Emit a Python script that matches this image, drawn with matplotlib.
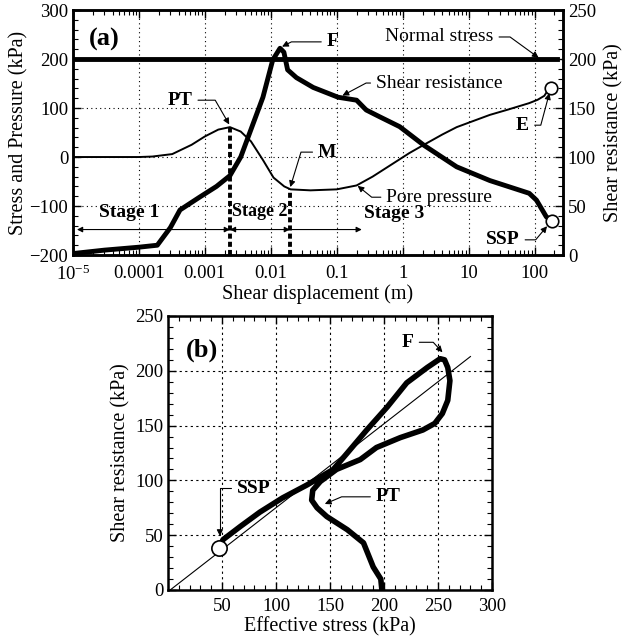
import matplotlib
matplotlib.use('Agg')
import matplotlib.pyplot as plt
from matplotlib.ticker import MultipleLocator, LogLocator, NullFormatter

plt.rcParams['font.family'] = 'Liberation Serif'
plt.rcParams['font.size'] = 13
plt.rcParams['mathtext.fontset'] = 'custom'
plt.rcParams['mathtext.rm'] = 'Liberation Serif'

# ---- panel (a): values ----
disp_pore = [1e-5, 1e-4, 1.6e-4, 3.2e-4, 6.3e-4, 1e-3, 1.6e-3, 2.4e-3, 3.5e-3, 5e-3,
             7.6e-3, 0.011, 0.016, 0.02, 0.04, 0.1, 0.2, 0.35, 0.63, 1.26,
             2.1, 4, 6.6, 12.6, 21, 40, 83, 112, 141, 166, 180]
pore = [0, 0, 1, 6, 25, 42, 56, 61, 52, 32,
        -6, -42, -60, -66, -68, -66, -58, -40, -18, 8,
        25, 46, 61, 75, 86, 97, 110, 117, 125, 140, 145]

disp_shear = [1e-5, 3e-5, 1e-4, 1.9e-4, 3e-4, 4.2e-4, 8.3e-4, 1.5e-3, 2.4e-3, 3.5e-3,
              4.4e-3, 7.6e-3, 0.0107, 0.0138, 0.0158, 0.018, 0.0245, 0.044, 0.105, 0.2,
              0.28, 0.45, 0.9, 2.1, 6.6, 21, 83, 107, 151, 182]
shear = [1.5, 5, 8, 10, 28, 46, 59, 70, 81, 100,
         118, 161, 199, 211, 207, 189, 181, 171, 161, 158,
         148, 141, 131, 112, 90, 76, 63, 56, 39, 35]

normal_disp = [1e-5, 220]
normal = [200, 200]

disp_pt, disp_m = 0.0024, 0.0195
pore_pt, pore_m = 61, -66
stage_level = -148

# ---- panel (b) ----
eff = [198, 197, 190, 181, 166, 147, 138, 133, 134, 141, 156, 178, 193, 215, 236, 247,
       254, 259, 261, 259, 256, 252, 240, 221, 203, 184, 166, 153, 129, 106, 85, 67, 51, 47]
tau = [0, 10, 21, 43, 55, 67, 75, 82, 91, 99, 110, 119, 130, 139, 146, 152,
       161, 173, 191, 203, 210, 211, 203, 189, 167, 146, 125, 110, 96, 84, 71, 58, 46, 38]
env_eff = [2, 280]
env_tau = [0, 213]

fig = plt.figure(figsize=(6.26, 6.39), dpi=100)

def callout(a, label, xy, xytext, angB, bold=True, size=14):
    a.annotate(label, xy=xy, xytext=xytext, ha='center', va='center', fontsize=size,
               fontweight='bold' if bold else 'normal',
               arrowprops=dict(arrowstyle='-|>', color='k', lw=0.8, mutation_scale=9,
                               shrinkA=2, shrinkB=1,
                               connectionstyle=f'angle,angleA=0,angleB={angB},rad=0'))

def style(a):
    for s in a.spines.values():
        s.set_linewidth(1.8)
    a.tick_params(which='major', direction='in', length=6, width=1, labelsize=13.5)
    a.tick_params(which='minor', direction='in', length=3.5, width=0.8)

# ===== (a) =====
ax = fig.add_axes([0.1166, 0.6009, 0.7827, 0.3834])
ax2 = ax.twinx()
ax.set_xscale('log')
ax.set_xlim(1e-5, 270)
ax.set_ylim(-200, 300)
ax2.set_ylim(0, 250)

ax.plot(normal_disp, normal, color='k', lw=3.5)
ax.plot(disp_pore, pore, color='k', lw=1.4)
ax2.plot(disp_shear, shear, color='k', lw=3.5, solid_joinstyle='round')
ax.plot(disp_pore[-1], pore[-1] - 4, 'o', ms=9, mfc='white', mec='k', mew=1.2)
ax2.plot(disp_shear[-1], shear[-1], 'o', ms=9, mfc='white', mec='k', mew=1.2, zorder=5)

ax.plot([disp_pt, disp_pt], [-200, pore_pt], color='k', lw=2.8, ls=(0, (1.3, 0.8)))
ax.plot([disp_m, disp_m], [-200, pore_m], color='k', lw=2.8, ls=(0, (1.3, 0.8)))

arr = dict(color='k', lw=0.8, mutation_scale=8, shrinkA=0, shrinkB=0)
ax.annotate('', xy=(disp_pt, stage_level), xytext=(1.15e-5, stage_level),
            arrowprops=dict(arrowstyle='<|-|>', **arr))
ax.annotate('', xy=(disp_m, stage_level), xytext=(disp_pt, stage_level),
            arrowprops=dict(arrowstyle='<|-|>', **arr))
ax.annotate('', xy=(0.24, stage_level), xytext=(disp_m, stage_level),
            arrowprops=dict(arrowstyle='-|>', **arr))
ax.text(7.2e-5, -114, 'Stage 1', ha='center', va='center', fontsize=14, fontweight='bold')
ax.text(6.9e-3, -112, 'Stage 2', ha='center', va='center', fontsize=13, fontweight='bold')
ax.text(0.26, -115, 'Stage 3', ha='left', va='center', fontsize=14, fontweight='bold')
ax.text(3e-5, 240, '(a)', ha='center', va='center', fontsize=19, fontweight='bold')

callout(ax, 'PT', (disp_pt, 64), (4.2e-4, 116), -60)
callout(ax, 'F', (0.0142, 224), (0.087, 235), 27)
callout(ax, 'Normal stress', (120, 201), (3.6, 245), -36, bold=False)
callout(ax, 'Shear resistance', (0.117, 124), (3.6, 151), 28, bold=False)
callout(ax, 'M', (0.0195, -64), (0.072, 10), 73)
callout(ax, 'Pore pressure', (0.2, -57), (3.6, -82), -39, bold=False)
callout(ax, 'E', (170, 133), (66, 65), 75)
callout(ax, 'SSP', (160, -139), (33, -169), 50)

ax.set_xticks([1e-5, 1e-4, 1e-3, 1e-2, 0.1, 1, 10, 100])
ax.set_xticklabels([r'$\mathregular{10^{-5}}$', '0.0001', '0.001', '0.01', '0.1', '1', '10', '100'])
ax.xaxis.set_minor_locator(LogLocator(base=10, subs=range(2, 10), numticks=20))
ax.xaxis.set_minor_formatter(NullFormatter())
ax.set_yticks(range(-200, 301, 100))
ax.yaxis.set_minor_locator(MultipleLocator(20))
ax2.set_yticks(range(0, 251, 50))
ax2.yaxis.set_minor_locator(MultipleLocator(10))
style(ax)
style(ax2)
ax.tick_params(which='both', top=True, right=False)
ax.tick_params(axis='x', which='major', pad=7)
ax.grid(True, which='major', color='k', lw=0.8, ls=(0, (1, 3)))
ax.set_xlabel('Shear displacement (m)', fontsize=14.5, labelpad=0)
ax.set_ylabel('Stress and Pressure (kPa)', fontsize=14.5, labelpad=1)
ax2.set_ylabel('Shear resistance (kPa)', fontsize=14.5, labelpad=6)

# ===== (b) =====
bx = fig.add_axes([0.2684, 0.0767, 0.5176, 0.4288])
bx.plot(env_eff, env_tau, color='k', lw=0.8)
bx.plot(eff, tau, color='k', lw=4, solid_joinstyle='round')
bx.plot(eff[-1], tau[-1], 'o', ms=11, mfc='white', mec='k', mew=1.2, zorder=5)
bx.set_xlim(0, 300)
bx.set_ylim(0, 250)
bx.set_xticks(range(50, 301, 50))
bx.set_yticks(range(0, 251, 50))
bx.xaxis.set_minor_locator(MultipleLocator(10))
bx.yaxis.set_minor_locator(MultipleLocator(10))
style(bx)
bx.tick_params(which='both', top=True, right=True)
bx.tick_params(axis='x', which='major', pad=6)
bx.grid(True, which='major', color='k', lw=0.8, ls=(0, (2, 3)))
bx.text(31, 219, '(b)', ha='center', va='center', fontsize=19, fontweight='bold')
callout(bx, 'F', (255, 216), (222, 226), -47)
callout(bx, 'SSP', (48, 48), (79, 93), 90)
callout(bx, 'PT', (144, 78), (204, 85), 23)
bx.set_xlabel('Effective stress (kPa)', fontsize=14.5, labelpad=1)
bx.set_ylabel('Shear resistance (kPa)', fontsize=14.5, labelpad=3)

fig.savefig('out.png', dpi=100)
